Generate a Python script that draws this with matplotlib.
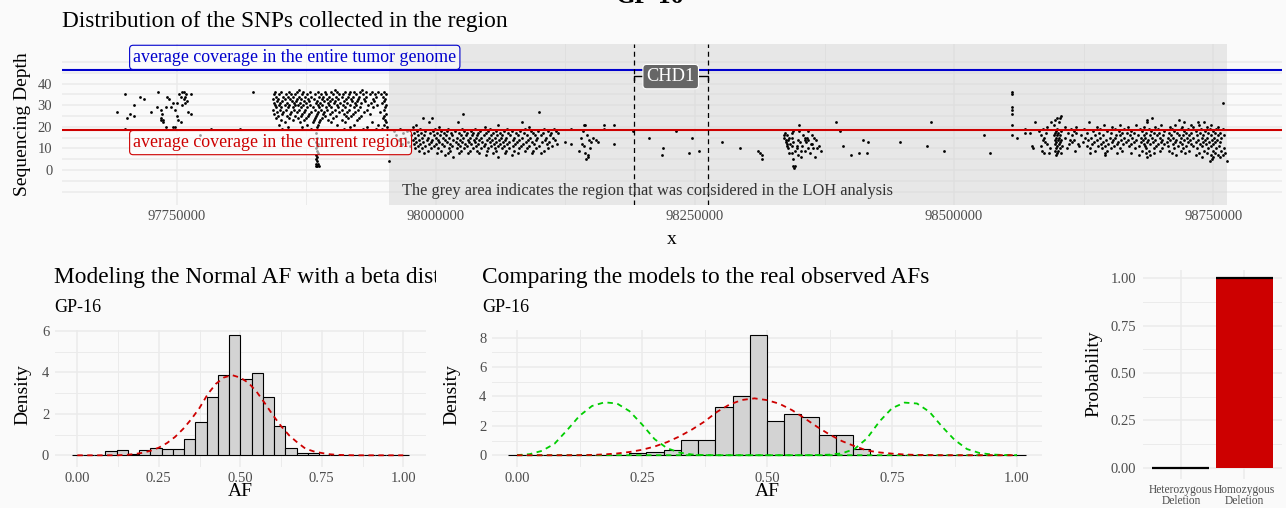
import numpy as np
import matplotlib.pyplot as plt
from matplotlib.ticker import FuncFormatter
from matplotlib.transforms import Bbox, TransformedBbox

W, H = 1286, 508

# ---- SNP depth track: positions in kb, depth in reads ----
left_snps = [(97692, 27), (97700, 35), (97700, 19), (97702, 24), (97705, 26), (97709, 25),
             (97709, 30), (97715, 34), (97718, 33), (97725, 27), (97731, 29), (97732, 36),
             (97735, 28), (97735, 24), (97735, 23), (97736, 26), (97737, 23), (97737, 22),
             (97740, 29), (97740, 20), (97741, 34), (97743, 33), (97744, 29), (97746, 31),
             (97746, 20), (97748, 28), (97748, 20), (97750, 31), (97750, 25), (97751, 23),
             (97752, 35), (97754, 34), (97754, 22), (97755, 36), (97755, 30), (97757, 36),
             (97757, 33), (97758, 34), (97758, 31), (97759, 35), (97760, 32), (97761, 27),
             (97764, 35), (97764, 26), (97772, 16), (97783, 19), (97811, 19), (97824, 36)]

# dense block left of the LOH window, one row per depth
block_rows = [
    (37, [97868, 97903, 97929]),
    (36, [97845, 97851, 97858, 97866, 97872, 97879, 97886, 97893, 97899, 97905, 97912, 97917,
          97921, 97927, 97933, 97938, 97944, 97950]),
    (35, [97844, 97849, 97855, 97860, 97864, 97871, 97876, 97883, 97889, 97894, 97901, 97907,
          97910, 97916, 97923, 97930, 97936, 97941, 97947, 97952]),
    (34, [97846, 97853, 97857, 97862, 97868, 97874, 97880, 97887, 97891, 97897, 97904, 97909,
          97915, 97920, 97926, 97933, 97942, 97949]),
    (33, [97843, 97848, 97854, 97859, 97866, 97870, 97877, 97882, 97890, 97895, 97900, 97906,
          97913, 97918, 97925, 97931, 97939, 97951]),
    (32, [97847, 97852, 97861, 97865, 97873, 97878, 97885, 97892, 97898, 97903, 97911, 97919,
          97924, 97932, 97940, 97950]),
    (31, [97844, 97850, 97856, 97863, 97869, 97875, 97884, 97888, 97896, 97902, 97908, 97914,
          97922, 97928, 97937, 97948]),
    (30, [97845, 97849, 97854, 97858, 97864, 97867, 97872, 97879, 97886, 97890, 97897, 97905,
          97910, 97917, 97923, 97935, 97943, 97952]),
    (29, [97846, 97851, 97857, 97862, 97870, 97876, 97881, 97887, 97894, 97899, 97906, 97912,
          97921, 97927, 97939, 97951]),
    (28, [97843, 97850, 97855, 97863, 97868, 97874, 97883, 97889, 97895, 97903, 97909, 97916,
          97925, 97934, 97950]),
    (27, [97847, 97853, 97860, 97866, 97873, 97880, 97886, 97892, 97900, 97907, 97914, 97922,
          97931, 97946]),
    (26, [97844, 97852, 97859, 97871, 97878, 97885, 97891, 97898, 97911, 97920, 97936, 97952]),
    (25, [97848, 97856, 97864, 97870, 97877, 97884, 97893, 97904, 97913, 97918, 97928, 97950]),
    (24, [97846, 97858, 97867, 97875, 97883, 97890, 97901, 97915, 97926, 97949]),
    (23, [97851, 97862, 97873, 97882, 97888, 97896, 97909, 97924, 97951]),
    (22, [97854, 97869, 97881, 97887, 97899, 97912, 97938, 97952]),
    (21, [97849, 97876, 97886, 97905, 97921, 97944, 97950]),
    (20, [97857, 97871, 97885, 97917, 97934, 97953]),
    (19, [97852, 97880, 97911, 97930, 97942, 97948]),
]
block_column = [(97884, 17), (97885, 15), (97884, 13), (97886, 12), (97885, 11), (97884, 10),
                (97885, 9), (97886, 8), (97884, 7), (97885, 6), (97884, 5), (97885, 4),
                (97884, 3), (97886, 3), (97885, 2), (97884, 2), (97887, 2)]

# start of the LOH window
loh_rows = [
    (27, [98100]),
    (26, [98026]),
    (24, [97988, 97996]),
    (22, [97993, 98021, 98083]),
    (21, [97981, 98060]),
    (20, [97978, 98003, 98047, 98090]),
    (19, [97965, 97985, 97999, 98012, 98025, 98038, 98052, 98069, 98086, 98104, 98114]),
    (18, [97960, 97972, 97982, 97990, 97997, 98005, 98011, 98018, 98027, 98034, 98043, 98050,
          98058, 98066, 98073, 98081, 98092, 98099, 98108, 98116]),
    (17, [97968, 97979, 97986, 97994, 98001, 98008, 98015, 98022, 98030, 98036, 98041, 98048,
          98055, 98062, 98070, 98077, 98085, 98094, 98103, 98111, 98118]),
    (16, [97962, 97976, 97983, 97989, 97998, 98004, 98010, 98016, 98024, 98029, 98035, 98040,
          98046, 98053, 98059, 98064, 98072, 98079, 98088, 98096, 98101, 98110]),
    (15, [97970, 97980, 97987, 97992, 98000, 98007, 98013, 98020, 98026, 98033, 98039, 98044,
          98051, 98057, 98063, 98068, 98075, 98083, 98091, 98098, 98106, 98113]),
    (14, [97964, 97978, 97984, 97991, 97996, 98002, 98009, 98017, 98023, 98031, 98037, 98042,
          98049, 98054, 98061, 98067, 98074, 98080, 98089, 98097, 98105, 98115]),
    (13, [97973, 97981, 97988, 97995, 98003, 98011, 98019, 98025, 98032, 98038, 98045, 98052,
          98058, 98065, 98071, 98078, 98087, 98093, 98102, 98109]),
    (12, [97967, 97979, 97985, 97993, 98000, 98006, 98014, 98021, 98028, 98034, 98041, 98047,
          98056, 98062, 98069, 98076, 98084, 98095, 98107, 98117]),
    (11, [97975, 97983, 97990, 97998, 98008, 98016, 98023, 98030, 98039, 98046, 98053, 98060,
          98066, 98074, 98082, 98090, 98100, 98112]),
    (10, [97980, 97987, 97995, 98002, 98013, 98020, 98027, 98036, 98044, 98050, 98057, 98064,
          98071, 98080, 98088, 98097, 98108]),
    (9, [97984, 97992, 98005, 98014, 98024, 98033, 98040, 98049, 98058, 98068, 98075, 98086,
         98094, 98104]),
    (8, [97989, 98001, 98012, 98022, 98031, 98042, 98055, 98067, 98079, 98093, 98101]),
    (7, [98009, 98048, 98073]),
    (6, [98017, 98060]),
    (4, [97955]),
]

mid_snps = [(98125, 13), (98130, 12), (98130, 19), (98143, 21), (98144, 21), (98138, 9),
            (98145, 5), (98147, 6), (98141, 12), (98148, 14), (98150, 13), (98155, 14),
            (98156, 13), (98143, 11), (98144, 8), (98140, 15), (98146, 16), (98152, 15),
            (98162, 21), (98162, 19), (98172, 21), (98172, 12), (98142, 18), (98149, 10),
            (98147, 7), (98190, 18), (98206, 15), (98219, 10), (98218, 7), (98232, 18),
            (98244, 8), (98247, 15), (98254, 9), (98276, 13), (98293, 10), (98311, 9),
            (98313, 8), (98315, 7), (98315, 5)]

cluster_snps = [(98336, 16), (98336, 15), (98337, 17), (98338, 14), (98338, 13), (98339, 16),
                (98339, 12), (98339, 11), (98340, 10), (98340, 14), (98341, 15), (98341, 8),
                (98342, 12), (98344, 17), (98344, 15), (98345, 13), (98344, 11), (98344, 8),
                (98345, 18), (98345, 5), (98345, 2), (98346, 1), (98347, 2), (98347, 9),
                (98348, 11), (98348, 10), (98349, 14), (98350, 21), (98350, 18), (98349, 7),
                (98351, 13), (98352, 6), (98352, 9), (98353, 11), (98354, 16), (98356, 15),
                (98356, 14), (98356, 9), (98357, 13), (98358, 15), (98359, 14), (98359, 18),
                (98359, 10), (98361, 8), (98362, 12), (98363, 12), (98363, 16), (98364, 10),
                (98365, 15), (98366, 6), (98367, 14), (98368, 10), (98370, 11), (98372, 9),
                (98386, 22), (98390, 18), (98393, 11), (98401, 7), (98408, 8), (98412, 14),
                (98416, 8), (98417, 13), (98448, 13), (98474, 11), (98478, 22), (98490, 9),
                (98529, 16), (98535, 8), (98556, 36), (98556, 35), (98556, 29), (98556, 28),
                (98556, 26), (98556, 21), (98556, 16)]

# end of the LOH window
right_rows = [
    (31, [98759]),
    (25, [98603]),
    (24, [98599, 98602, 98691]),
    (23, [98597, 98686, 98717]),
    (22, [98578, 98594, 98601, 98630, 98686, 98722, 98735, 98741]),
    (21, [98596, 98645, 98660, 98676, 98700, 98713, 98729, 98736, 98748]),
    (20, [98590, 98607, 98618, 98638, 98652, 98668, 98683, 98694, 98708, 98720, 98731, 98744,
          98755]),
    (19, [98568, 98586, 98599, 98613, 98625, 98641, 98655, 98664, 98679, 98688, 98697, 98710,
          98719, 98726, 98738, 98747, 98753, 98759]),
    (18, [98582, 98598, 98603, 98616, 98634, 98648, 98659, 98671, 98681, 98690, 98703, 98712,
          98722, 98733, 98742, 98750]),
    (17, [98568, 98573, 98589, 98597, 98600, 98610, 98618, 98628, 98640, 98651, 98662, 98667,
          98674, 98685, 98693, 98698, 98707, 98715, 98724, 98729, 98737, 98745, 98752, 98757]),
    (16, [98584, 98596, 98599, 98602, 98614, 98622, 98636, 98644, 98656, 98660, 98670, 98677,
          98683, 98689, 98696, 98702, 98709, 98717, 98721, 98727, 98734, 98740, 98748, 98755,
          98760]),
    (15, [98561, 98587, 98598, 98601, 98607, 98626, 98632, 98641, 98650, 98655, 98664, 98672,
          98680, 98684, 98691, 98699, 98706, 98711, 98719, 98725, 98731, 98739, 98744, 98751,
          98758]),
    (14, [98586, 98597, 98600, 98603, 98612, 98616, 98629, 98638, 98647, 98653, 98661, 98668,
          98676, 98682, 98687, 98694, 98701, 98708, 98714, 98722, 98728, 98735, 98742, 98749,
          98754]),
    (13, [98588, 98598, 98602, 98614, 98624, 98635, 98644, 98652, 98658, 98666, 98674, 98680,
          98686, 98692, 98700, 98705, 98713, 98718, 98726, 98733, 98740, 98746, 98752, 98757]),
    (12, [98590, 98597, 98601, 98611, 98620, 98633, 98642, 98649, 98657, 98663, 98671, 98683,
          98689, 98697, 98703, 98711, 98720, 98729, 98737, 98743, 98750]),
    (11, [98575, 98584, 98599, 98604, 98621, 98628, 98639, 98646, 98654, 98669, 98678, 98684,
          98695, 98706, 98716, 98724, 98731, 98739, 98748, 98756]),
    (10, [98576, 98593, 98598, 98602, 98609, 98631, 98643, 98651, 98660, 98675, 98685, 98693,
          98701, 98712, 98721, 98734, 98745, 98753, 98760]),
    (9, [98585, 98597, 98600, 98617, 98636, 98648, 98662, 98681, 98688, 98699, 98707, 98719,
         98727, 98741, 98750, 98758]),
    (8, [98587, 98592, 98599, 98603, 98631, 98646, 98657, 98671, 98685, 98693, 98710, 98723,
         98736, 98744, 98752, 98761]),
    (7, [98598, 98646, 98678, 98689, 98714, 98733, 98748, 98755, 98759]),
    (6, [98686, 98739, 98750, 98757]),
    (5, [98749]),
    (4, [98747, 98763]),
]

avg_genome_depth = 46.4
avg_region_depth = 18.4
loh_start, loh_end = 97954800, 98763300
chd1_start, chd1_end = 98190908, 98262240

# ---- allele frequency histograms (30 bins over 0..1) ----
af_bins = np.linspace(0, 1, 30)
normal_af_density = [0, 0, 0, 0.19, 0.24, 0.05, 0.24, 0.34, 0.31, 0.31, 0.79, 1.59, 2.83, 3.86,
                     5.8, 3.68, 3.99, 2.83, 1.41, 0.37, 0.1, 0.1, 0.03, 0.03, 0, 0, 0, 0, 0, 0]
tumor_af_density = [0, 0, 0, 0, 0, 0, 0, 0.16, 0.25, 0.36, 1.02, 1.02, 3.27, 4.06, 8.2, 2.36,
                    2.81, 2.59, 1.36, 1.36, 0.43, 0, 0, 0, 0, 0, 0, 0, 0, 0]

af_grid = np.linspace(0, 1, 41)
beta_normal = [0, 0, 0, 0, 0.001, 0.004, 0.02, 0.06, 0.12, 0.22, 0.37, 0.59, 0.89, 1.28, 1.75,
               2.29, 2.95, 3.45, 3.76, 3.87, 3.75, 3.5, 3.07, 2.52, 1.94, 1.41, 0.96, 0.62, 0.32,
               0.19, 0.11, 0.05, 0.02, 0.01, 0, 0, 0, 0, 0, 0, 0]
beta_loss_low = [0.01, 0.07, 0.3, 0.78, 1.7, 2.68, 3.35, 3.6, 3.52, 3.0, 2.1, 1.1, 0.48, 0.18,
                 0.05, 0.01, 0, 0, 0, 0, 0, 0, 0, 0, 0, 0, 0, 0, 0, 0, 0, 0, 0, 0, 0, 0, 0, 0, 0,
                 0, 0]
beta_loss_high = [0, 0, 0, 0, 0, 0, 0, 0, 0, 0, 0, 0, 0, 0, 0, 0, 0, 0, 0, 0, 0, 0, 0, 0, 0.01,
                  0.04, 0.13, 0.42, 1.15, 2.3, 3.2, 3.58, 3.52, 2.95, 1.95, 1.05, 0.42, 0.15,
                  0.05, 0.01, 0]

deletion_types = ['Heterozygous\nDeletion', 'Homozygous\nDeletion']
deletion_prob = [0.0, 1.0]

# ---- styling ----
plt.rcParams['font.family'] = ['Liberation Serif', 'DejaVu Serif']
BG = '#FAFAFA'
GRID = '#EBEBEB'
TICK = '#4D4D4D'
RED = '#CD0000'
BLUE = '#0000CD'
GREEN = '#00CD00'
TITLE_SIZE = 16.8
LABEL_SIZE = 14

fig = plt.figure(figsize=(W / 100, H / 100), dpi=100, facecolor=BG)


def px_box(x0, y0, x1, y1):
    return [x0 / W, 1 - y1 / H, (x1 - x0) / W, (y1 - y0) / H]


def fx(x):
    return x / W


def fy(y):
    return 1 - y / H


def minimal(ax, size=10.5):
    ax.set_facecolor('none')
    for s in ax.spines.values():
        s.set_visible(False)
    ax.tick_params(which='both', length=0, labelcolor=TICK, labelsize=size)
    ax.grid(True, which='major', color=GRID, lw=1.1)
    ax.grid(True, which='minor', color=GRID, lw=0.7)
    ax.set_axisbelow(True)


def expand_rows(rows):
    out = []
    for d, xs in rows:
        out += [(x, d) for x in xs]
    return out


# ---- top: SNP depth along the region ----
ax = fig.add_axes(px_box(62, 43.5, 1282, 204.5))
minimal(ax)
snps = np.array(left_snps + expand_rows(block_rows) + block_column + expand_rows(loh_rows)
                + mid_snps + cluster_snps + expand_rows(right_rows), dtype=float)
ax.axvspan(loh_start, loh_end, color='#CFCFCF', alpha=0.42, lw=0, zorder=0.6)
ax.scatter(snps[:, 0] * 1000, snps[:, 1], s=4, c='black', lw=0, zorder=3)
ax.axhline(avg_genome_depth, color=BLUE, lw=1.5, zorder=4)
ax.axhline(avg_region_depth, color=RED, lw=1.5, zorder=4)
for g in (chd1_start, chd1_end):
    ax.axvline(g, color='black', lw=0.9, ls=(0, (4, 3)), zorder=4)
ax.plot([chd1_start, chd1_start, chd1_end, chd1_end], [41.6, 43.4, 43.4, 41.6],
        color='black', lw=1.0, zorder=4)
ax.text((chd1_start + chd1_end) / 2, 43.2, 'CHD1', ha='center', va='center', color='white',
        fontsize=13.2, zorder=6,
        bbox=dict(boxstyle='round,pad=0.2', fc='#666666', ec='white', lw=0.8))
ax.text(97708000, 52.1, 'average coverage in the entire tumor genome', color=BLUE,
        fontsize=12.9, ha='left', va='center', zorder=6,
        bbox=dict(boxstyle='round,pad=0.2', fc=(1, 1, 1, 0.6), ec=BLUE, lw=0.8))
ax.text(97708000, 12.7, 'average coverage in the current region', color=RED,
        fontsize=12.9, ha='left', va='center', zorder=6,
        bbox=dict(boxstyle='round,pad=0.2', fc=(1, 1, 1, 0.6), ec=RED, lw=0.8))
ax.text((chd1_start + chd1_end) / 2 - 22000, -9.5,
        'The grey area indicates the region that was considered in the LOH analysis',
        ha='center', va='center', fontsize=11.8, color='#333333', zorder=6)
# ticks first: set_xticks would otherwise widen the view to the outer minor ticks
ax.set_xticks(np.arange(97750000, 98750001, 250000))
ax.set_xticks(np.arange(97875000, 98625001, 250000), minor=True)
ax.xaxis.set_major_formatter(FuncFormatter(lambda v, p: f'{v:.0f}'))
ax.set_yticks([0, 10, 20, 30, 40])
ax.set_yticks([-10, -5, 5, 15, 25, 35, 45, 50], minor=True)
ax.set_xlim(97639300, 98816400)
ax.set_ylim(-15.9, 58.5)
ax.grid(True, which='minor', axis='y', color=GRID, lw=1.1)
ax.tick_params(axis='y', pad=7)
ax.tick_params(axis='x', pad=4)
ax.set_xlabel('x', fontsize=LABEL_SIZE, va='center')
ax.xaxis.set_label_coords(fx(672), fy(239), transform=fig.transFigure)
ax.set_ylabel('Sequencing Depth', fontsize=LABEL_SIZE, va='center')
ax.yaxis.set_label_coords(fx(23), fy(124), transform=fig.transFigure)
fig.text(fx(62), fy(26.5), 'Distribution of the SNPs collected in the region',
         fontsize=TITLE_SIZE, va='baseline')
fig.text(fx(650), fy(3), 'GP-16', fontsize=18, fontweight='bold', ha='center', va='baseline')


# ---- bottom left / middle: AF histograms with model densities ----
def af_panel(box, xlim, density, ymax_tick, ylim, curves, title, title_x, label_x,
             clip_right=None):
    a = fig.add_axes(box)
    minimal(a)
    a.bar(af_bins, density, width=1 / 29, color='#D3D3D3', edgecolor='black', lw=0.8,
          zorder=2)
    for vals, col in curves:
        a.plot(af_grid, vals, color=col, lw=1.3, ls=(0, (3, 2.5)), zorder=3)
    a.set_xticks([0, 0.25, 0.5, 0.75, 1])
    a.set_xticks([0.125, 0.375, 0.625, 0.875], minor=True)
    a.xaxis.set_major_formatter(FuncFormatter(lambda v, p: f'{v:.2f}'))
    a.set_yticks(np.arange(0, ymax_tick + 1, 2))
    a.set_yticks(np.arange(1, ymax_tick + 1, 2), minor=True)
    a.set_xlim(*xlim)
    a.set_ylim(*ylim)
    a.tick_params(axis='y', pad=4)
    a.tick_params(axis='x', pad=4)
    a.set_xlabel('AF', fontsize=LABEL_SIZE, va='center')
    a.set_ylabel('Density', fontsize=LABEL_SIZE, va='center')
    a.xaxis.set_label_coords(box[0] + box[2] / 2, fy(491.5), transform=fig.transFigure)
    a.yaxis.set_label_coords(fx(label_x), fy(395), transform=fig.transFigure)
    t = fig.text(fx(title_x), fy(283), title, fontsize=TITLE_SIZE, va='baseline')
    if clip_right is not None:
        t.set_clip_box(TransformedBbox(Bbox([[0, 0], [clip_right / W, 1]]), fig.transFigure))
        t.set_clip_on(True)
    fig.text(fx(title_x), fy(312.5), 'GP-16', fontsize=13, va='baseline')
    return a


ax1 = af_panel(px_box(54.8, 330, 425.8, 466.7), (-0.069, 1.069), normal_af_density, 6,
               (-0.55, 6.05), [(beta_normal, RED)],
               'Modeling the Normal AF with a beta distribution', 54.3, 23, clip_right=436)

ax2 = af_panel(px_box(492, 330, 1042, 466.7), (-0.05, 1.05), tumor_af_density, 8,
               (-0.78, 8.52),
               [(beta_loss_low, GREEN), (beta_loss_high, GREEN), (beta_normal, RED)],
               'Comparing the models to the real observed AFs', 482, 452)

# ---- bottom right: deletion type probabilities ----
ax3 = fig.add_axes(px_box(1143, 269.5, 1282.3, 478.5))
minimal(ax3)
cat_x = np.arange(1, len(deletion_types) + 1)
ax3.bar(cat_x, deletion_prob, width=0.9, color=[BG, RED], lw=0, zorder=2)
ax3.hlines(deletion_prob, cat_x - 0.45, cat_x + 0.45, color='black', lw=1.6, zorder=3)
ax3.set_xticks(cat_x)
ax3.set_xticklabels(deletion_types, fontsize=8.3, linespacing=0.85)
ax3.set_yticks([0, 0.25, 0.5, 0.75, 1])
ax3.set_yticks([0.125, 0.375, 0.625, 0.875], minor=True)
ax3.yaxis.set_major_formatter(FuncFormatter(lambda v, p: f'{v:.2f}'))
ax3.set_xlim(0.4, 2.6)
ax3.set_ylim(-0.058, 1.047)
ax3.tick_params(axis='y', pad=5)
ax3.tick_params(axis='x', pad=4)
ax3.set_ylabel('Probability', fontsize=LABEL_SIZE, va='center')
ax3.yaxis.set_label_coords(fx(1094), fy(374), transform=fig.transFigure)

fig.savefig('out.png', dpi=100, facecolor=BG)
